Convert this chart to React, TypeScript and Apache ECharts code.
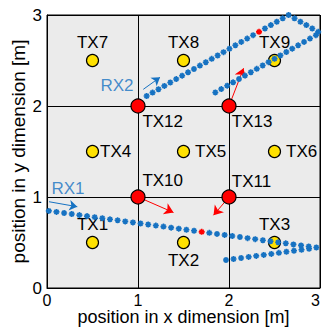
import React, { useEffect, useRef } from "react";
import * as echarts from "echarts";

// ---- data ----
const axisTicks = [0, 1, 2, 3];

const txNames = ["TX1", "TX2", "TX3", "TX4", "TX5", "TX6", "TX7", "TX8", "TX9"];
const txX = [0.5, 1.5, 2.5, 0.5, 1.5, 2.5, 0.5, 1.5, 2.5];
const txY = [0.5, 0.5, 0.5, 1.5, 1.5, 1.5, 2.5, 2.5, 2.5];

const anchorNames = ["TX10", "TX11", "TX12", "TX13"];
const anchorX = [1, 2, 1, 2];
const anchorY = [1, 1, 2, 2];

// RX1 trajectory samples (x, y) in metres
const rx1Path = [
  [0.02, 0.847], [0.104, 0.836], [0.188, 0.824], [0.272, 0.813], [0.356, 0.801],
  [0.44, 0.79], [0.524, 0.778], [0.608, 0.767], [0.692, 0.755], [0.776, 0.744],
  [0.86, 0.732], [0.944, 0.721], [1.028, 0.709], [1.112, 0.698], [1.196, 0.686],
  [1.28, 0.675], [1.364, 0.663], [1.448, 0.652], [1.532, 0.64], [1.616, 0.629],
  [1.784, 0.606], [1.868, 0.594], [1.952, 0.583], [2.036, 0.571],
  [2.12, 0.56], [2.204, 0.548], [2.288, 0.537], [2.372, 0.525], [2.456, 0.514],
  [2.54, 0.502], [2.624, 0.491], [2.708, 0.479], [2.792, 0.468], [2.876, 0.456],
  [2.96, 0.445],
  [2.88, 0.431], [2.797, 0.42], [2.714, 0.409], [2.631, 0.398], [2.548, 0.386],
  [2.465, 0.375], [2.382, 0.364], [2.299, 0.353], [2.216, 0.342], [2.133, 0.33],
  [2.05, 0.319], [1.967, 0.308],
];
const rx1Current = [[1.7, 0.617]];

// RX2 trajectory samples (x, y) in metres
const rx2Path = [
  [1.095, 2.11], [1.16, 2.147], [1.225, 2.184], [1.29, 2.221], [1.355, 2.258],
  [1.42, 2.296], [1.485, 2.333], [1.55, 2.37], [1.615, 2.407], [1.68, 2.444],
  [1.745, 2.481], [1.81, 2.518], [1.875, 2.555], [1.94, 2.592], [2.005, 2.629],
  [2.07, 2.667], [2.135, 2.704], [2.2, 2.741], [2.265, 2.778],
  [2.395, 2.852], [2.46, 2.889], [2.525, 2.926], [2.59, 2.963], [2.655, 3.0],
  [2.72, 2.963], [2.785, 2.926], [2.85, 2.889], [2.915, 2.852], [2.98, 2.815],
  [2.955, 2.778], [2.89, 2.741], [2.825, 2.704], [2.76, 2.667], [2.695, 2.63],
  [2.63, 2.593], [2.565, 2.556], [2.5, 2.519], [2.435, 2.482], [2.37, 2.445],
  [2.305, 2.408], [2.24, 2.371], [2.175, 2.334], [2.11, 2.297], [2.045, 2.26],
  [1.98, 2.223], [1.915, 2.186], [1.85, 2.149],
];
const rx2Current = [[2.33, 2.815]];

// annotation arrows [start, end] in metres
const redArrows = [
  [[1, 1], [1.39, 0.83]],
  [[2, 1], [1.83, 0.8]],
  [[2, 2], [2.16, 2.415]],
];
const blueArrows = [
  [[0.022, 0.948], [0.333, 0.893]],
  [[1.058, 2.183], [1.242, 2.315]],
];

const rxLabelNames = ["RX1", "RX2"];
const rxLabelX = [0.231, 0.769];
const rxLabelY = [1.091, 2.227];

// ---- styles ----
const FONT = "'Liberation Sans', Arial, Helvetica, sans-serif";
const BLUE = "#1672c2";
const ASTERISK = "path://M0,5L10,5M5,0L5,10M1.5,1.5L8.5,8.5M8.5,1.5L1.5,8.5";

const labelLayout: Record<string, any> = {
  TX1: { position: "top", distance: 3 },
  TX2: { position: "bottom", distance: 3 },
  TX3: { position: "top", distance: 3 },
  TX4: { position: "right", distance: 1 },
  TX5: { position: "right", distance: 5 },
  TX6: { position: "right", distance: 5 },
  TX7: { position: "top", distance: 3 },
  TX8: { position: "top", distance: 3 },
  TX9: { position: "top", distance: 3 },
  TX10: { position: [12, -9], align: "left", verticalAlign: "middle" },
  TX11: { position: [10.4, -8], align: "left", verticalAlign: "middle" },
  TX12: { position: [12, 22.7], align: "left", verticalAlign: "middle" },
  TX13: { position: [10.4, 23], align: "left", verticalAlign: "middle" },
};

const labelBase = {
  show: true,
  formatter: "{b}",
  fontSize: 17,
  color: "#000",
  fontFamily: FONT,
};

export default function App() {
  const ref = useRef<HTMLDivElement>(null);

  useEffect(() => {
    if (!ref.current) return;
    const chart = echarts.init(ref.current, undefined, { renderer: "svg" });

    const axisCommon = {
      type: "value" as const,
      min: axisTicks[0],
      max: axisTicks[axisTicks.length - 1],
      interval: 1,
      nameLocation: "middle" as const,
      nameMoveOverlap: false,
      axisLine: { show: true, lineStyle: { color: "#000", width: 1 } },
      axisTick: { show: false },
      splitLine: { show: true, lineStyle: { color: "#000", width: 1 } },
    };

    chart.setOption({
      animation: false,
      grid: {
        left: 47,
        top: 15,
        width: 273,
        height: 273,
        containLabel: false,
        outerBoundsMode: "none",
        show: true,
        backgroundColor: "#ebebeb",
        borderColor: "#000",
        borderWidth: 1,
      },
      xAxis: {
        ...axisCommon,
        name: "position in x dimension [m]",
        nameGap: 20,
        nameTextStyle: { fontSize: 18, lineHeight: 18, color: "#000", fontFamily: FONT },
        axisLabel: {
          fontSize: 16,
          lineHeight: 16,
          color: "#000",
          margin: 4,
          fontFamily: FONT,
          alignMaxLabel: "right",
        },
      },
      yAxis: {
        ...axisCommon,
        name: "position in y dimension [m]",
        nameGap: 20,
        nameTextStyle: { fontSize: 19, lineHeight: 17, color: "#000", fontFamily: FONT },
        axisLabel: { fontSize: 17, color: "#000", margin: 5, fontFamily: FONT },
      },
      series: [
        {
          type: "scatter",
          z: 2,
          symbol: "circle",
          symbolSize: 12,
          itemStyle: { color: "#FFE100", borderColor: "#000", borderWidth: 1.2, opacity: 1 },
          data: txNames.map((n, i) => ({
            name: n,
            value: [txX[i], txY[i]],
            label: { ...labelBase, ...labelLayout[n] },
          })),
        },
        {
          type: "lines",
          coordinateSystem: "cartesian2d",
          z: 3,
          symbol: ["none", "arrow"],
          symbolSize: [0, 9],
          lineStyle: { color: "#ff0000", width: 1, opacity: 1 },
          data: redArrows.map((c) => ({ coords: c })),
        },
        {
          type: "lines",
          coordinateSystem: "cartesian2d",
          z: 3,
          symbol: ["none", "arrow"],
          symbolSize: [0, 8],
          lineStyle: { color: BLUE, width: 1, opacity: 1 },
          data: blueArrows.map((c) => ({ coords: c })),
        },
        {
          type: "scatter",
          z: 4,
          symbol: "circle",
          symbolSize: 14,
          itemStyle: { color: "#ff0000", borderColor: "#000", borderWidth: 1.2, opacity: 1 },
          data: anchorNames.map((n, i) => ({
            name: n,
            value: [anchorX[i], anchorY[i]],
            label: { ...labelBase, ...labelLayout[n] },
          })),
        },
        {
          type: "scatter",
          z: 5,
          symbol: ASTERISK,
          symbolSize: 6,
          itemStyle: { color: "none", borderColor: BLUE, borderWidth: 1.6, opacity: 1 },
          data: [...rx1Path, ...rx2Path],
        },
        {
          type: "scatter",
          z: 6,
          symbol: ASTERISK,
          symbolSize: 6,
          itemStyle: { color: "none", borderColor: "#ff0000", borderWidth: 1.6, opacity: 1 },
          data: [...rx1Current, ...rx2Current],
        },
        {
          type: "scatter",
          z: 6,
          symbolSize: 1,
          itemStyle: { color: "transparent" },
          label: {
            show: true,
            position: "inside",
            formatter: "{b}",
            fontSize: 17,
            color: BLUE,
            fontFamily: FONT,
            align: "center",
            verticalAlign: "middle",
          },
          data: rxLabelNames.map((n, i) => ({ name: n, value: [rxLabelX[i], rxLabelY[i]] })),
        },
      ],
    });

    return () => chart.dispose();
  }, []);

  return (
    <div
      ref={ref}
      style={{ position: "fixed", left: 0, top: 0, width: 323, height: 327, background: "#fff" }}
    />
  );
}
